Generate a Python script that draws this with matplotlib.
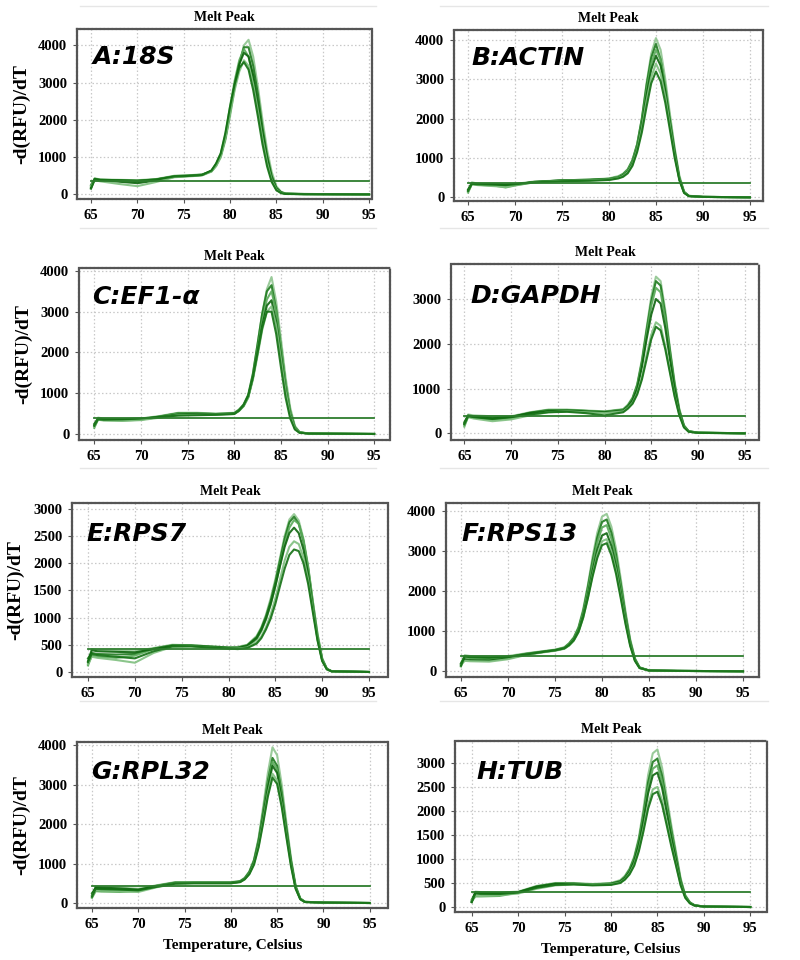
import matplotlib
matplotlib.use('Agg')
import matplotlib.pyplot as plt
from matplotlib.lines import Line2D

# ---------------- data ----------------
panel_labels = ["A:18S", "B:ACTIN", "C:EF1-\u03b1", "D:GAPDH",
                "E:RPS7", "F:RPS13", "G:RPL32", "H:TUB"]

x_ticks = [65, 70, 75, 80, 85, 90, 95]

thresholds = [370, 370, 385, 388, 420, 390, 440, 310]

y_ticks_a = [0, 1000, 2000, 3000, 4000]
y_ticks_b = [0, 1000, 2000, 3000, 4000]
y_ticks_c = [0, 1000, 2000, 3000, 4000]
y_ticks_d = [0, 1000, 2000, 3000]
y_ticks_e = [0, 500, 1000, 1500, 2000, 2500, 3000]
y_ticks_f = [0, 1000, 2000, 3000, 4000]
y_ticks_g = [0, 1000, 2000, 3000, 4000]
y_ticks_h = [0, 500, 1000, 1500, 2000, 2500, 3000]

# Panel A : 18S
temp_a = [65, 65.4, 66, 68, 70, 72, 74, 76, 77, 78, 78.5, 79, 79.5, 80, 80.5, 81, 81.5, 82,
          82.5, 83, 83.5, 84, 84.5, 85, 85.5, 86, 88, 95]
curves_a = [
    [200, 430, 400, 390, 380, 410, 500, 520, 540, 620, 760, 1000, 1450, 2100, 2850, 3500, 4000, 4150, 3700, 2900, 2000, 1200, 600, 220, 70, 25, 10, 0],
    [250, 420, 390, 380, 370, 400, 490, 510, 530, 620, 780, 1050, 1500, 2200, 2900, 3500, 3950, 3950, 3450, 2700, 1800, 1050, 500, 180, 60, 20, 10, 0],
    [150, 400, 380, 360, 340, 390, 480, 500, 520, 640, 820, 1100, 1600, 2350, 3050, 3600, 3900, 3700, 3100, 2300, 1500, 850, 380, 130, 40, 15, 5, 0],
    [180, 410, 370, 340, 300, 370, 470, 500, 520, 630, 800, 1050, 1550, 2250, 2950, 3500, 3800, 3700, 3200, 2450, 1650, 950, 430, 150, 50, 15, 5, 0],
    [220, 380, 350, 280, 220, 330, 460, 490, 510, 610, 760, 1000, 1500, 2150, 2800, 3300, 3600, 3450, 2950, 2250, 1500, 850, 380, 130, 40, 15, 5, 0],
    [160, 400, 390, 380, 360, 400, 480, 500, 520, 640, 830, 1100, 1650, 2350, 2950, 3400, 3550, 3350, 2800, 2100, 1350, 750, 330, 110, 35, 10, 5, 0],
]

# Panel B : ACTIN
temp_b = [65, 65.4, 66, 68, 69, 70, 72, 75, 78, 80, 81, 81.5, 82, 82.5, 83, 83.5, 84,
          84.5, 85, 85.5, 86, 86.5, 87, 87.5, 88, 88.5, 90, 95]
curves_b = [
    [150, 380, 350, 340, 330, 340, 400, 430, 450, 480, 540, 600, 720, 950, 1350, 2000, 2900, 3650, 4050, 3750, 3000, 2100, 1250, 550, 150, 40, 10, 0],
    [200, 360, 330, 300, 280, 320, 390, 430, 450, 470, 520, 590, 700, 940, 1350, 2000, 2850, 3550, 3900, 3500, 2750, 1900, 1100, 450, 120, 30, 10, 0],
    [120, 340, 320, 290, 250, 300, 380, 420, 440, 470, 520, 580, 690, 900, 1300, 1900, 2700, 3400, 3750, 3500, 2850, 2000, 1200, 500, 130, 35, 10, 0],
    [180, 350, 340, 330, 320, 330, 390, 430, 440, 460, 500, 560, 660, 860, 1250, 1850, 2600, 3250, 3600, 3350, 2700, 1900, 1150, 480, 130, 35, 10, 0],
    [140, 330, 310, 280, 260, 310, 380, 420, 430, 450, 490, 540, 640, 830, 1200, 1750, 2450, 3050, 3400, 3150, 2550, 1800, 1050, 450, 120, 30, 10, 0],
    [160, 340, 330, 320, 310, 330, 380, 410, 420, 440, 480, 520, 610, 800, 1150, 1650, 2300, 2900, 3200, 2950, 2400, 1700, 1000, 430, 110, 30, 10, 0],
]

# Panel C : EF1-alpha
temp_c = [65, 65.4, 66, 68, 70, 72, 74, 76, 78, 80, 80.5, 81, 81.5, 82, 82.5, 83, 83.5,
          84, 84.5, 85, 85.5, 86, 86.5, 87, 88, 95]
curves_c = [
    [200, 400, 380, 370, 380, 440, 520, 520, 500, 520, 600, 720, 950, 1450, 2200, 2950, 3550, 3850, 3250, 2350, 1400, 650, 200, 50, 10, 0],
    [250, 380, 360, 350, 360, 430, 510, 510, 490, 510, 590, 720, 960, 1480, 2200, 2950, 3500, 3650, 3050, 2150, 1250, 560, 170, 40, 10, 0],
    [150, 360, 340, 330, 350, 420, 500, 500, 490, 500, 570, 680, 900, 1380, 2050, 2750, 3300, 3500, 3000, 2150, 1250, 560, 170, 40, 10, 0],
    [220, 370, 350, 340, 360, 410, 480, 490, 480, 500, 570, 690, 910, 1370, 2000, 2650, 3150, 3280, 2750, 1950, 1100, 480, 140, 35, 10, 0],
    [180, 350, 330, 320, 340, 400, 460, 470, 470, 490, 560, 680, 890, 1330, 1920, 2550, 3000, 3130, 2650, 1850, 1050, 450, 130, 35, 10, 0],
    [200, 360, 350, 360, 380, 420, 450, 460, 470, 490, 570, 700, 930, 1380, 1980, 2600, 3000, 3000, 2450, 1650, 900, 380, 110, 30, 10, 0],
]

# Panel D : GAPDH
temp_d = [65, 65.4, 66, 68, 70, 72, 74, 76, 78, 80, 82, 82.5, 83, 83.5, 84, 84.5, 85,
          85.5, 86, 86.5, 87, 87.5, 88, 88.5, 89, 90, 95]
curves_d = [
    [200, 420, 400, 380, 380, 470, 530, 530, 510, 490, 540, 640, 800, 1100, 1650, 2350, 3050, 3500, 3400, 2750, 1900, 1150, 550, 180, 50, 15, 0],
    [250, 400, 380, 340, 360, 460, 520, 520, 500, 480, 530, 620, 780, 1080, 1600, 2300, 2950, 3400, 3300, 2650, 1850, 1100, 520, 170, 45, 15, 0],
    [150, 380, 360, 300, 330, 440, 510, 520, 500, 480, 520, 610, 760, 1050, 1550, 2200, 2850, 3250, 3150, 2550, 1750, 1050, 500, 160, 45, 15, 0],
    [220, 390, 370, 330, 370, 450, 500, 510, 490, 470, 510, 600, 740, 1000, 1480, 2100, 2650, 3000, 2900, 2350, 1650, 1000, 470, 150, 40, 10, 0],
    [180, 360, 330, 270, 310, 400, 470, 490, 470, 450, 490, 570, 680, 900, 1250, 1750, 2200, 2480, 2400, 1950, 1400, 850, 420, 140, 40, 10, 0],
    [200, 380, 360, 320, 360, 420, 470, 480, 450, 400, 470, 550, 660, 870, 1200, 1650, 2100, 2380, 2300, 1880, 1350, 820, 400, 130, 35, 10, 0],
]

# Panel E : RPS7
temp_e = [65, 65.4, 66, 68, 70, 72, 74, 76, 78, 80, 81, 82, 83, 83.5, 84, 84.5, 85, 85.5,
          86, 86.5, 87, 87.5, 88, 88.5, 89, 89.5, 90, 90.5, 91, 95]
curves_e = [
    [150, 420, 400, 390, 380, 440, 500, 490, 470, 450, 460, 500, 660, 820, 1050, 1350, 1700, 2100, 2500, 2800, 2900, 2780, 2450, 1950, 1300, 700, 250, 60, 15, 0],
    [250, 350, 330, 320, 330, 430, 490, 490, 470, 450, 450, 490, 640, 800, 1020, 1300, 1650, 2050, 2450, 2750, 2850, 2720, 2400, 1900, 1250, 650, 230, 55, 15, 0],
    [120, 300, 280, 260, 300, 420, 480, 480, 460, 440, 440, 470, 600, 750, 960, 1230, 1570, 1960, 2350, 2650, 2790, 2720, 2420, 1930, 1300, 700, 250, 60, 15, 0],
    [200, 400, 380, 370, 360, 420, 480, 480, 460, 440, 440, 480, 620, 770, 980, 1250, 1580, 1950, 2300, 2550, 2650, 2550, 2250, 1800, 1200, 620, 220, 50, 12, 0],
    [150, 280, 260, 220, 170, 350, 460, 470, 450, 430, 430, 450, 550, 650, 820, 1050, 1350, 1700, 2050, 2300, 2400, 2350, 2100, 1700, 1150, 600, 210, 50, 12, 0],
    [180, 330, 310, 280, 250, 380, 470, 470, 450, 430, 420, 440, 520, 620, 780, 980, 1250, 1580, 1900, 2150, 2250, 2220, 2000, 1620, 1100, 580, 200, 50, 12, 0],
]

# Panel F : RPS13
temp_f = [65, 65.4, 66, 68, 70, 72, 74, 75, 76, 76.5, 77, 77.5, 78, 78.5, 79, 79.5, 80,
          80.5, 81, 81.5, 82, 82.5, 83, 83.5, 84, 85, 88, 95]
curves_f = [
    [150, 400, 380, 370, 380, 450, 510, 540, 600, 700, 850, 1100, 1550, 2150, 2850, 3450, 3850, 3920, 3600, 3050, 2300, 1500, 800, 330, 100, 20, 10, 0],
    [200, 380, 360, 330, 360, 440, 500, 530, 590, 690, 830, 1080, 1500, 2100, 2750, 3330, 3720, 3780, 3450, 2900, 2180, 1420, 760, 310, 95, 20, 10, 0],
    [120, 350, 330, 300, 340, 430, 500, 530, 580, 670, 800, 1040, 1450, 2000, 2650, 3200, 3580, 3640, 3300, 2780, 2080, 1350, 720, 290, 90, 20, 10, 0],
    [180, 300, 280, 270, 320, 420, 490, 520, 570, 650, 780, 1000, 1380, 1900, 2500, 3030, 3380, 3440, 3120, 2620, 1960, 1280, 680, 280, 85, 20, 10, 0],
    [160, 260, 250, 240, 300, 410, 480, 510, 560, 640, 760, 970, 1330, 1830, 2400, 2900, 3240, 3290, 2980, 2500, 1870, 1220, 650, 270, 80, 20, 10, 0],
    [140, 370, 350, 340, 360, 420, 490, 520, 570, 650, 770, 980, 1340, 1820, 2360, 2820, 3140, 3190, 2890, 2420, 1810, 1180, 630, 260, 80, 20, 10, 0],
]

# Panel G : RPL32
temp_g = [65, 65.4, 66, 68, 70, 72, 74, 76, 78, 80, 81, 81.5, 82, 82.5, 83, 83.5, 84,
          84.5, 85, 85.5, 86, 86.5, 87, 87.5, 88, 90, 95]
curves_g = [
    [150, 420, 400, 390, 360, 450, 530, 530, 530, 530, 560, 640, 800, 1100, 1650, 2450, 3300, 3950, 3750, 3000, 2050, 1150, 450, 120, 30, 10, 0],
    [250, 380, 360, 330, 330, 440, 520, 520, 520, 520, 550, 630, 790, 1080, 1600, 2330, 3100, 3680, 3480, 2800, 1920, 1080, 420, 110, 30, 10, 0],
    [130, 300, 290, 280, 300, 430, 510, 520, 510, 510, 540, 620, 770, 1050, 1560, 2270, 3020, 3580, 3390, 2720, 1870, 1050, 400, 110, 30, 10, 0],
    [200, 400, 390, 370, 340, 420, 500, 510, 510, 510, 540, 610, 760, 1030, 1520, 2200, 2930, 3480, 3300, 2650, 1820, 1020, 390, 100, 25, 10, 0],
    [170, 330, 320, 300, 280, 400, 490, 500, 500, 500, 530, 600, 740, 990, 1450, 2090, 2780, 3280, 3110, 2500, 1720, 960, 370, 100, 25, 10, 0],
    [160, 360, 350, 340, 320, 410, 490, 500, 500, 500, 530, 600, 730, 970, 1410, 2030, 2700, 3180, 3020, 2430, 1670, 930, 360, 95, 25, 10, 0],
]

# Panel H : TUB
temp_h = [65, 65.4, 66, 68, 70, 72, 74, 76, 78, 80, 81, 81.5, 82, 82.5, 83, 83.5, 84,
          84.5, 85, 85.5, 86, 86.5, 87, 87.5, 88, 88.5, 89, 90, 95]
curves_h = [
    [100, 320, 310, 300, 320, 440, 500, 500, 480, 500, 560, 650, 800, 1050, 1450, 2050, 2750, 3200, 3280, 2900, 2300, 1700, 1150, 600, 250, 100, 40, 10, 0],
    [150, 300, 290, 280, 310, 430, 490, 490, 470, 490, 540, 630, 780, 1020, 1400, 1950, 2600, 3020, 3090, 2730, 2170, 1600, 1080, 560, 230, 90, 35, 10, 0],
    [120, 220, 220, 230, 300, 400, 470, 480, 470, 480, 530, 620, 760, 990, 1360, 1880, 2480, 2880, 2950, 2610, 2080, 1530, 1030, 540, 220, 90, 35, 10, 0],
    [100, 310, 300, 290, 310, 420, 480, 480, 460, 480, 530, 610, 740, 960, 1310, 1800, 2370, 2740, 2800, 2480, 1970, 1450, 980, 510, 210, 85, 30, 10, 0],
    [130, 240, 230, 250, 280, 380, 450, 470, 460, 470, 510, 580, 700, 890, 1200, 1640, 2130, 2450, 2500, 2220, 1770, 1310, 890, 470, 200, 80, 30, 10, 0],
    [110, 280, 270, 270, 300, 400, 460, 470, 450, 460, 500, 570, 680, 860, 1160, 1580, 2050, 2350, 2400, 2130, 1700, 1260, 860, 450, 190, 75, 30, 10, 0],
]

temps = [temp_a, temp_b, temp_c, temp_d, temp_e, temp_f, temp_g, temp_h]
curves = [curves_a, curves_b, curves_c, curves_d, curves_e, curves_f, curves_g, curves_h]
yticks = [y_ticks_a, y_ticks_b, y_ticks_c, y_ticks_d, y_ticks_e, y_ticks_f, y_ticks_g, y_ticks_h]

# ---------------- layout / style ----------------
axes_rects = [
    [0.09625, 0.7927, 0.36875, 0.1771],
    [0.5675, 0.7906, 0.38625, 0.1781],
    [0.09875, 0.5417, 0.38875, 0.1792],
    [0.56375, 0.5417, 0.385, 0.1833],
    [0.09, 0.2948, 0.395, 0.1813],
    [0.5575, 0.2948, 0.39125, 0.1813],
    [0.09625, 0.0542, 0.38875, 0.1729],
    [0.56875, 0.05, 0.39, 0.1781],
]
xlims = [(63.49, 95.32), (63.5, 96.4), (63.36, 96.7), (63.57, 96.53),
         (63.29, 97.03), (63.41, 96.7), (63.38, 96.98), (63.2, 96.8)]
ylims = [(-125, 4440), (-95, 4255), (-147, 4073), (-149, 3782),
         (-92, 3104), (-142, 4192), (-126, 4084), (-104, 3456)]
label_pos = [(0.054, 0.835), (0.058, 0.836), (0.042, 0.83), (0.062, 0.82),
             (0.047, 0.82), (0.05, 0.82), (0.045, 0.82), (0.07, 0.82)]

line_colors = ['#8fc58f', '#1e7a1e', '#5aaa5a', '#0d650d', '#7fbf7f', '#137013']
serif = ['Liberation Serif', 'DejaVu Serif']

fig = plt.figure(figsize=(8, 9.6), dpi=100)

# faint panel separators like the screenshot borders
for yy in [0.994, 0.762, 0.513, 0.27]:
    fig.add_artist(Line2D([0.1, 0.47], [yy, yy], color='#e6e6e6', lw=1))
    fig.add_artist(Line2D([0.55, 0.96], [yy, yy], color='#e6e6e6', lw=1))

for i in range(8):
    ax = fig.add_axes(axes_rects[i])
    ax.set_xlim(*xlims[i])
    ax.set_ylim(*ylims[i])
    ax.set_xticks(x_ticks)
    ax.set_yticks(yticks[i])
    ax.grid(True, color='#c8c8c8', linestyle=(0, (1.2, 1.8)), lw=0.9)
    ax.set_axisbelow(True)
    for sp in ax.spines.values():
        sp.set_color('#555555')
        sp.set_linewidth(1.6)
        sp.set_linestyle((0, (1, 0.8)))
    ax.tick_params(axis='both', length=3, width=0.8, color='#555555', pad=4)
    for lab in ax.get_xticklabels() + ax.get_yticklabels():
        lab.set_fontfamily(serif)
        lab.set_fontweight('bold')
        lab.set_fontsize(10.5)
    x = temps[i]
    for k, y in enumerate(curves[i]):
        ax.plot(x, y, color=line_colors[k % len(line_colors)], lw=1.5, alpha=0.9,
                solid_joinstyle='round')
    ax.plot([65, 95], [thresholds[i], thresholds[i]], color='#2d7d2d', lw=1.3)
    ax.text(label_pos[i][0], label_pos[i][1], panel_labels[i], transform=ax.transAxes,
            fontsize=18, fontweight='bold', fontstyle='oblique',
            family=['DejaVu Sans'], va='center', ha='left', color='black')
    ax.set_title('Melt Peak', fontsize=10, fontweight='bold', family=serif, pad=6)
    if i % 2 == 0:
        ax.set_ylabel('-d(RFU)/dT', fontsize=14, fontweight='bold', family=serif, labelpad=6)
    if i >= 6:
        ax.set_xlabel('Temperature, Celsius', fontsize=11, fontweight='bold',
                      family=serif, labelpad=6)

fig.savefig('out.png', dpi=100, facecolor='white')
